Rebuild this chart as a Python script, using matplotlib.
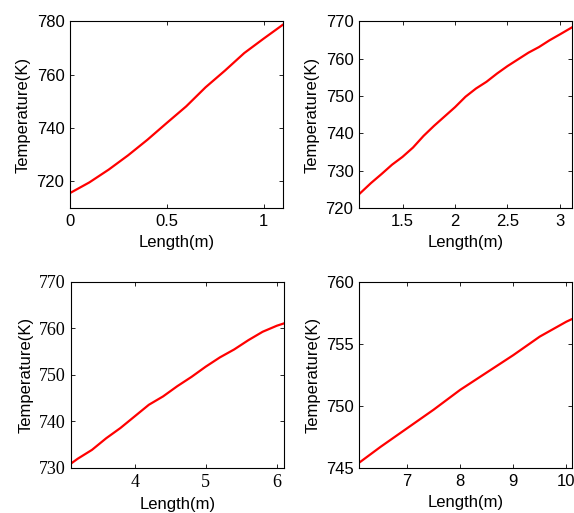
import matplotlib
matplotlib.use("Agg")
import matplotlib.pyplot as plt

# Panel 1
len1 = [0.0, 0.1, 0.2, 0.3, 0.4, 0.5, 0.6, 0.7, 0.8, 0.9, 1.0, 1.1]
temp1 = [715.6, 719.6, 724.4, 729.75, 735.6, 741.9, 748.1, 755.25, 761.5, 768.1, 773.5, 778.75]
# Panel 2
len2 = [1.09, 1.2, 1.3, 1.4, 1.5, 1.6, 1.7, 1.8, 1.9, 2.0, 2.1, 2.2, 2.3, 2.4, 2.5, 2.6, 2.7, 2.8, 2.9, 3.0, 3.11]
temp2 = [723.8, 726.7, 729.1, 731.6, 733.7, 736.2, 739.3, 742.0, 744.5, 747.0, 749.8, 752.0, 753.8,
         756.0, 758.0, 759.8, 761.6, 763.1, 764.9, 766.5, 768.3]
# Panel 3
len3 = [3.1, 3.2, 3.4, 3.6, 3.8, 4.0, 4.2, 4.4, 4.6, 4.8, 5.0, 5.2, 5.4, 5.6, 5.8, 6.0, 6.1]
temp3 = [730.9, 732.0, 733.9, 736.4, 738.6, 741.1, 743.6, 745.4, 747.6, 749.6, 751.8, 753.8,
         755.5, 757.5, 759.3, 760.6, 761.1]
# Panel 4
len4 = [6.1, 6.5, 7.0, 7.5, 8.0, 8.5, 9.0, 9.5, 10.0, 10.1]
temp4 = [745.43, 746.7, 748.2, 749.7, 751.3, 752.7, 754.1, 755.6, 756.8, 757.0]

panels = [
    dict(x=len1, y=temp1, xlim=(0, 1.1), ylim=(710, 780), xt=[0, 0.5, 1], xtl=["0", "0.5", "1"],
         yt=[720, 740, 760, 780], pos=[70/574, 1-208/513, 213/574, 186.7/513], serif=False),
    dict(x=len2, y=temp2, xlim=(1.085, 3.115), ylim=(720, 770), xt=[1.5, 2, 2.5, 3], xtl=["1.5", "2", "2.5", "3"],
         yt=[720, 730, 740, 750, 760, 770], pos=[359/574, 1-208/513, 213/574, 186.7/513], serif=False),
    dict(x=len3, y=temp3, xlim=(3.105, 6.1), ylim=(730, 770), xt=[4, 5, 6], xtl=["4", "5", "6"],
         yt=[730, 740, 750, 760, 770], pos=[71/574, 1-468/513, 213/574, 186/513], serif=True),
    dict(x=len4, y=temp4, xlim=(6.096, 10.106), ylim=(745, 760), xt=[7, 8, 9, 10], xtl=["7", "8", "9", "10"],
         yt=[745, 750, 755, 760], pos=[359/574, 1-468/513, 213/574, 186/513], serif=False),
]

fig = plt.figure(figsize=(5.74, 5.13), dpi=100)
for p in panels:
    ax = fig.add_axes(p["pos"])
    ax.plot(p["x"], p["y"], color="#ff0000", lw=1.6)
    ax.set_xlim(*p["xlim"])
    ax.set_ylim(*p["ylim"])
    ax.set_xticks(p["xt"])
    ax.set_xticklabels(p["xtl"])
    ax.set_yticks(p["yt"])
    ax.set_yticklabels([str(v) for v in p["yt"]])
    fam = "Liberation Serif" if p["serif"] else "Liberation Sans"
    fs = 13 if p["serif"] else 12
    for lab in ax.get_xticklabels() + ax.get_yticklabels():
        lab.set_fontfamily(fam)
        lab.set_fontsize(fs)
    ax.tick_params(direction="in", top=True, right=True, length=3, width=0.6, pad=4)
    for s in ax.spines.values():
        s.set_linewidth(0.8)
    ax.set_xlabel("Length(m)", fontsize=12, fontfamily="Liberation Sans", labelpad=5)
    ax.set_ylabel("Temperature(K)", fontsize=12, fontfamily="Liberation Sans", labelpad=4)

fig.savefig("out.png", dpi=100)
